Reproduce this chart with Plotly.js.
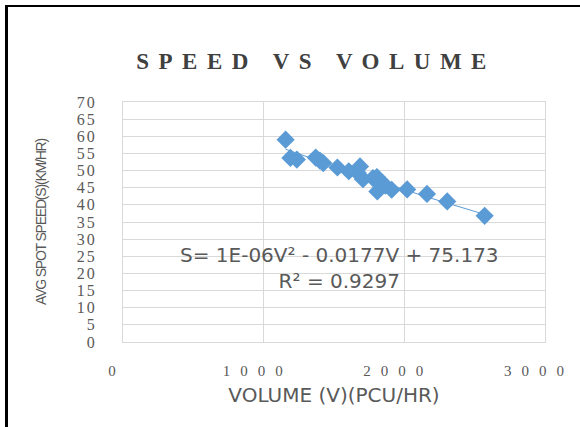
<!DOCTYPE html>
<html>
<head>
<meta charset="utf-8">
<script src="https://cdn.plot.ly/plotly-3.0.1.min.js"></script>
<style>
  html, body { margin: 0; padding: 0; background: #fff; }
  #wrap { position: relative; width: 580px; height: 427px; overflow: hidden; }
  #chart { width: 580px; height: 427px; }
  #frame { position: absolute; left: 5px; top: 5px; width: 600px; height: 440px;
           border-left: 3px solid #000; border-top: 2px solid #000; pointer-events: none; }
  .gtitle { letter-spacing: 9.5px; }
  .xtick text { letter-spacing: 10px; }
  .ytick text { letter-spacing: 2px; }
  .ytitle { letter-spacing: -1.2px; }
</style>
</head>
<body>
<div id="wrap">
  <div id="chart"></div>
  <div id="frame"></div>
</div>
<script>
// Data
const volume = [1156, 1190, 1236, 1370, 1400, 1424, 1524, 1605, 1668, 1685, 1706, 1777, 1805, 1826, 1808, 1866, 1910, 2020, 2161, 2305, 2571];
const speed  = [59.0, 53.7, 53.2, 53.8, 52.9, 52.2, 50.9, 49.8, 49.4, 51.2, 47.5, 47.8, 48.1, 46.6, 43.9, 45.6, 44.4, 44.5, 43.2, 41.0, 36.8];
const xTickVals = [0, 1000, 2000, 3000];
const yTickVals = [0, 5, 10, 15, 20, 25, 30, 35, 40, 45, 50, 55, 60, 65, 70];
const chartTitle = "SPEED VS VOLUME";
const xTitle = "VOLUME (V)(PCU/HR)";
const yTitle = "AVG SPOT SPEED(S)(KM/HR)";
const equationText = "S= 1E-06V² - 0.0177V + 75.173";
const r2Text = "R² = 0.9297";

// Least-squares quadratic fit of the data (trendline)
function quadFit(xs, ys) {
  let s = [0,0,0,0,0], t = [0,0,0];
  for (let i = 0; i < xs.length; i++) {
    const x = xs[i] / 1000, y = ys[i];
    let p = 1;
    for (let k = 0; k < 5; k++) { s[k] += p; if (k < 3) t[k] += p * y; p *= x; }
  }
  const A = [[s[0], s[1], s[2], t[0]], [s[1], s[2], s[3], t[1]], [s[2], s[3], s[4], t[2]]];
  for (let i = 0; i < 3; i++) {
    for (let j = i + 1; j < 3; j++) {
      const f = A[j][i] / A[i][i];
      for (let k = i; k < 4; k++) A[j][k] -= f * A[i][k];
    }
  }
  const c = [0, 0, 0];
  for (let i = 2; i >= 0; i--) {
    let v = A[i][3];
    for (let k = i + 1; k < 3; k++) v -= A[i][k] * c[k];
    c[i] = v / A[i][i];
  }
  return c;
}
const coef = quadFit(volume, speed);
const xMin = Math.min(...volume), xMax = Math.max(...volume);
const trendX = [], trendY = [];
for (let i = 0; i <= 40; i++) {
  const x = xMin + (xMax - xMin) * i / 40, u = x / 1000;
  trendX.push(x);
  trendY.push(coef[0] + coef[1] * u + coef[2] * u * u);
}

const blue = "#5B9BD5";
const grey = "#595959";
const grid = "#D9D9D9";

const traces = [
  { x: trendX, y: trendY, type: "scatter", mode: "lines",
    line: { color: blue, width: 1 }, hoverinfo: "skip", showlegend: false },
  { x: volume, y: speed, type: "scatter", mode: "markers",
    marker: { symbol: "diamond", size: 14, color: blue }, showlegend: false }
];

const layout = {
  width: 580, height: 427,
  margin: { l: 123, r: 35, t: 102, b: 85 },
  paper_bgcolor: "#fff", plot_bgcolor: "#fff",
  showlegend: false,
  title: { text: chartTitle, x: 0.545, xanchor: "center", y: 0.857, yanchor: "middle",
           font: { family: "Liberation Serif", size: 23, color: "#404040", weight: "bold" } },
  xaxis: {
    range: [0, 3000], tickvals: xTickVals, ticktext: xTickVals.map(String),
    showgrid: true, gridcolor: grid, gridwidth: 1, zeroline: false,
    showline: true, linecolor: grid, mirror: true,
    ticks: "", ticklabelstandoff: 15,
    tickfont: { family: "Liberation Serif", size: 15, color: grey },
    title: { text: xTitle, standoff: 9, font: { family: "DejaVu Sans", size: 20, color: grey } },
    automargin: false
  },
  yaxis: {
    range: [0, 70], tickvals: yTickVals, ticktext: yTickVals.map(String),
    showgrid: true, gridcolor: grid, gridwidth: 1, zeroline: false,
    showline: true, linecolor: grid, mirror: true,
    ticks: "", ticklabelstandoff: 22,
    tickfont: { family: "Liberation Serif", size: 16, color: grey },
    title: { text: yTitle, standoff: 26, font: { family: "Liberation Sans", size: 14, color: grey } },
    automargin: false
  },
  annotations: [
    { x: 1540, y: 21.5, xref: "x", yref: "y", showarrow: false, align: "center",
      text: equationText + "<br>" + r2Text,
      font: { family: "DejaVu Sans", size: 20, color: grey } }
  ]
};

Plotly.newPlot("chart", traces, layout, { displayModeBar: false, staticPlot: true }).then(function (gd) {
  // compensate the trailing letter-spacing so spaced tick labels stay centred
  gd.querySelectorAll(".xtick text").forEach(function (t) { t.setAttribute("dx", "-6"); });
});
</script>
</body>
</html>
